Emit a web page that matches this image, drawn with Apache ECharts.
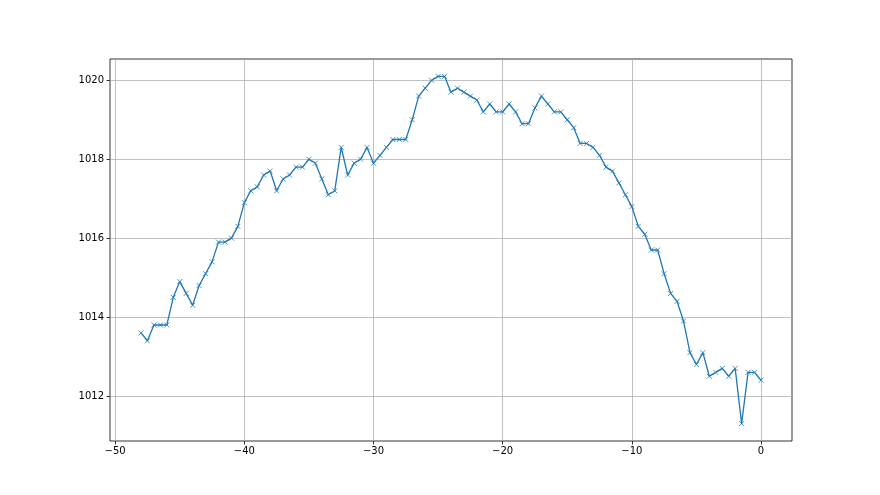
<!DOCTYPE html>
<html>
<head>
<meta charset="utf-8">
<script src="https://cdn.jsdelivr.net/npm/echarts@6/dist/echarts.min.js"></script>
<style>
  html, body { margin: 0; padding: 0; background: #fff; }
  #chart { width: 880px; height: 495px; }
</style>
</head>
<body>
<div id="chart"></div>
<script>
// x positions, -48 .. 0 every 0.5
var xStart = -48;
var xStep = 0.5;
var pressure = [
  1013.6, 1013.4, 1013.8, 1013.8, 1013.8, 1014.5, 1014.9, 1014.6, 1014.3, 1014.8,
  1015.1, 1015.4, 1015.9, 1015.9, 1016.0, 1016.3, 1016.9, 1017.2, 1017.3, 1017.6,
  1017.7, 1017.2, 1017.5, 1017.6, 1017.8, 1017.8, 1018.0, 1017.9, 1017.5, 1017.1,
  1017.2, 1018.3, 1017.6, 1017.9, 1018.0, 1018.3, 1017.9, 1018.1, 1018.3, 1018.5,
  1018.5, 1018.5, 1019.0, 1019.6, 1019.8, 1020.0, 1020.1, 1020.1, 1019.7, 1019.8,
  1019.7, 1019.6, 1019.5, 1019.2, 1019.4, 1019.2, 1019.2, 1019.4, 1019.2, 1018.9,
  1018.9, 1019.3, 1019.6, 1019.4, 1019.2, 1019.2, 1019.0, 1018.8, 1018.4, 1018.4,
  1018.3, 1018.1, 1017.8, 1017.7, 1017.4, 1017.1, 1016.8, 1016.3, 1016.1, 1015.7,
  1015.7, 1015.1, 1014.6, 1014.4, 1013.9, 1013.1, 1012.8, 1013.1, 1012.5, 1012.6,
  1012.7, 1012.5, 1012.7, 1011.3, 1012.6, 1012.6, 1012.4
];
var xTicks = [-50, -40, -30, -20, -10, 0];
var yTicks = [1012, 1014, 1016, 1018, 1020];

var points = pressure.map(function (v, i) {
  return [xStart + i * xStep, v];
});

var myChart = echarts.init(document.getElementById("chart"));
var labelStyle = {
  color: "#000",
  fontSize: 10,
  fontFamily: "DejaVu Sans"
};
var option = {
  animation: false,
  grid: {
    left: 110,
    right: 88,
    top: 59,
    bottom: 54,
    show: true,
    borderColor: "#000",
    borderWidth: 0.8
  },
  xAxis: {
    type: "value",
    min: -50.4,
    max: 2.4,
    axisLine: { show: false, onZero: false },
    axisTick: { show: true, length: 3.5, lineStyle: { color: "#000", width: 0.8 }, customValues: xTicks },
    axisLabel: Object.assign({
      customValues: xTicks,
      margin: 5,
      formatter: function (v) { return String(v).replace("-", "\u2212"); }
    }, labelStyle),
    splitLine: { show: true, lineStyle: { color: "#b0b0b0", width: 0.8 } }
  },
  yAxis: {
    type: "value",
    min: 1010.86,
    max: 1020.54,
    axisLine: { show: false, onZero: false },
    axisTick: { show: true, length: 3.5, lineStyle: { color: "#000", width: 0.8 }, customValues: yTicks },
    axisLabel: Object.assign({
      customValues: yTicks,
      margin: 6,
      formatter: function (v) { return String(v); }
    }, labelStyle),
    splitLine: { show: true, lineStyle: { color: "#b0b0b0", width: 0.8 } }
  },
  series: [
    {
      type: "line",
      data: points,
      symbol: "path://M0,0L10,10M10,0L0,10",
      symbolSize: 5,
      showSymbol: true,
      lineStyle: { color: "#1f77b4", width: 1.3 },
      itemStyle: { color: "rgba(0,0,0,0)", borderColor: "#1f77b4", borderWidth: 0.8 }
    }
  ]
};
myChart.setOption(option);
</script>
</body>
</html>
